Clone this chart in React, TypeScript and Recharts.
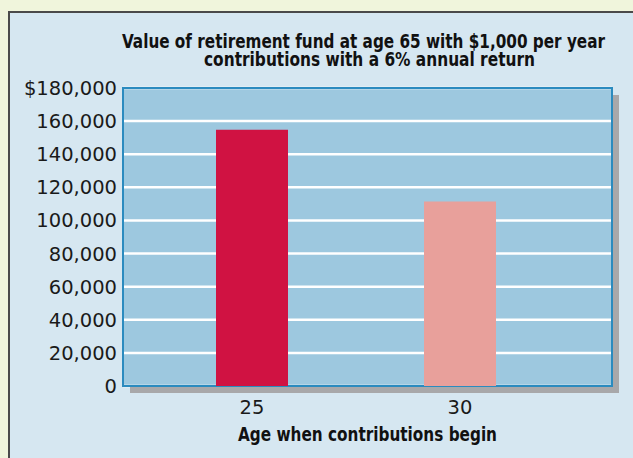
import React from "react";
import { BarChart, Bar, XAxis, YAxis, CartesianGrid, ReferenceArea, Cell } from "recharts";

const categories = ["25", "30"];
const fundValues = [154762, 111435];
const barColors = ["#d01242", "#e8a09b"];
const yTicks = [0, 20000, 40000, 60000, 80000, 100000, 120000, 140000, 160000, 180000];
const titleLines = [
  "Value of retirement fund at age 65 with $1,000 per year",
  "contributions with a 6% annual return",
];
const xAxisTitle = "Age when contributions begin";

const data = categories.map((c, i) => ({ age: c, value: fundValues[i] }));

const TICK_FONT = "'DejaVu Sans', sans-serif";
const BOLD_FONT = "'Liberation Sans Narrow', 'DejaVu Sans Condensed', 'DejaVu Sans', sans-serif";

const fmtY = (v: number) => {
  const s = v.toLocaleString("en-US");
  return v === 180000 ? "$" + s : s;
};

const YTick = (props: any) => {
  const { x, y, payload } = props;
  return (
    <text x={x + 2} y={y + 7} textAnchor="end" fill="#1a1a1a" fontSize={19.5} fontFamily={TICK_FONT}>
      {fmtY(payload.value)}
    </text>
  );
};

const XTick = (props: any) => {
  const { x, y, payload } = props;
  return (
    <text x={x} y={y + 20} textAnchor="middle" fill="#1a1a1a" fontSize={19.5} fontFamily={TICK_FONT}>
      {payload.value}
    </text>
  );
};

const PlotFrame = (props: any) => {
  const { x, y, width, height } = props;
  const s = 7;
  const d = `M${x + width},${y + s} L${x + width + s},${y + s} L${x + width + s},${y + height + s} L${x + s},${y + height + s} L${x + s},${y + height} L${x + width},${y + height} Z`;
  return (
    <g>
      <path d={d} fill="#a8a8aa" />
      <rect x={x} y={y} width={width} height={height} fill="none" stroke="#2b8bbf" strokeWidth={2} />
    </g>
  );
};

export default function App() {
  return (
    <div style={{ position: "fixed", left: 0, top: 0, width: 633, height: 458, background: "#f0f5dc", overflow: "hidden" }}>
      <div
        style={{
          position: "absolute",
          left: 8,
          top: 11,
          width: 660,
          height: 480,
          border: "2px solid #4a4a4a",
          background: "#d6e7f1",
        }}
      />
      <div style={{ position: "absolute", left: 0, top: 0 }}>
        <BarChart width={633} height={458} data={data} margin={{ top: 88, right: 21, bottom: 0, left: 0 }}>
          <CartesianGrid horizontal vertical={false} fill="#9dc8df" stroke="#ffffff" strokeWidth={2.5} />
          <XAxis
            dataKey="age"
            axisLine={false}
            tickLine={false}
            height={72}
            padding={{ left: 25, right: 48 }}
            tick={<XTick />}
          />
          <XAxis xAxisId="frame" type="number" domain={[0, 1]} hide />
          <YAxis
            domain={[0, 180000]}
            ticks={yTicks}
            width={123}
            axisLine={false}
            tickLine={false}
            interval={0}
            tick={<YTick />}
          />
          <Bar dataKey="value" barSize={72} isAnimationActive={false}>
            {data.map((d, i) => (
              <Cell key={d.age} fill={barColors[i]} />
            ))}
          </Bar>
          <ReferenceArea
            xAxisId="frame"
            x1={0}
            x2={1}
            y1={0}
            y2={180000}
            ifOverflow="visible"
            shape={<PlotFrame />}
          />
        </BarChart>
      </div>
      <svg width={633} height={458} style={{ position: "absolute", left: 0, top: 0, pointerEvents: "none" }}>
        <text x={363.5} y={47.5} textAnchor="middle" fontWeight="bold" fontSize={19.5} fontFamily={BOLD_FONT} fill="#111" textLength={483} lengthAdjust="spacingAndGlyphs">
          {titleLines[0]}
        </text>
        <text x={369.5} y={66} textAnchor="middle" fontWeight="bold" fontSize={19.5} fontFamily={BOLD_FONT} fill="#111" textLength={331} lengthAdjust="spacingAndGlyphs">
          {titleLines[1]}
        </text>
        <text x={367.5} y={441} textAnchor="middle" fontWeight="bold" fontSize={20} fontFamily={BOLD_FONT} fill="#111" textLength={259} lengthAdjust="spacingAndGlyphs">
          {xAxisTitle}
        </text>
      </svg>
    </div>
  );
}
